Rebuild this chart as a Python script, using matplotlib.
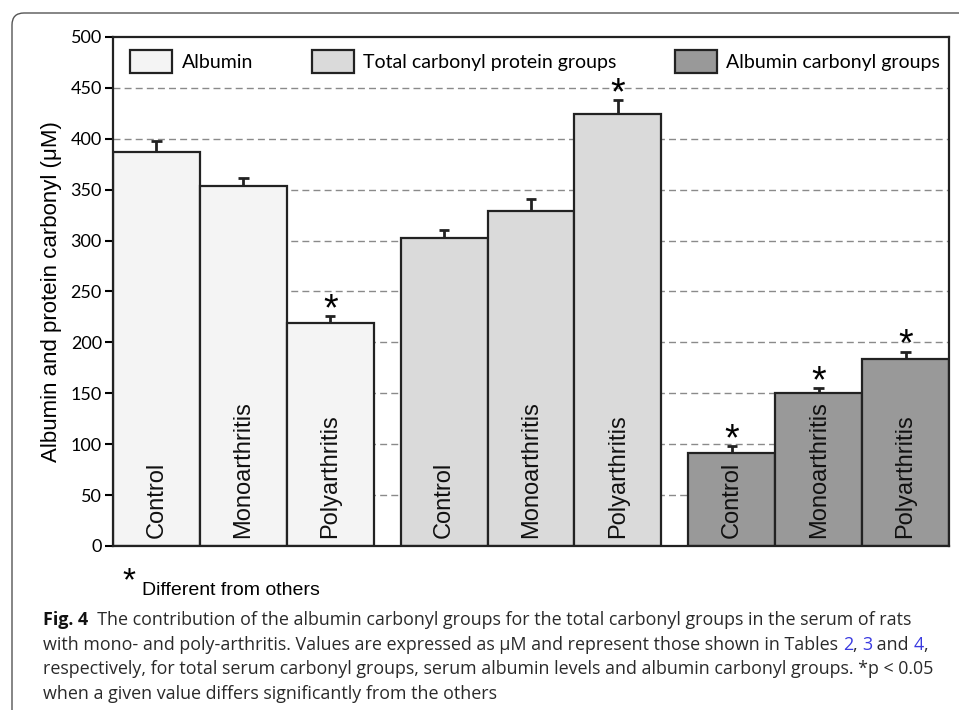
import numpy as np
import matplotlib
matplotlib.use("Agg")
import matplotlib.pyplot as plt
from matplotlib.path import Path
from matplotlib.patches import PathPatch

groups = ["Albumin", "Total carbonyl protein groups", "Albumin carbonyl groups"]
conditions = ["Control", "Monoarthritis", "Polyarthritis"]
albumin = [387, 354, 219]
albumin_err = [11, 7, 7]
total = [303, 329, 424]
total_err = [7, 12, 14]
alb_carbonyl = [91, 150, 184]
alb_carbonyl_err = [7, 5, 7]
stars = [[False, False, True], [False, False, True], [True, True, True]]
yticks = [0, 50, 100, 150, 200, 250, 300, 350, 400, 450, 500]

colors = ["#f4f4f4", "#dadada", "#999999"]
tick_font = ["Lato", "DejaVu Sans"]
arial = ["Liberation Sans", "DejaVu Sans"]
cap_font = ["Open Sans", "DejaVu Sans"]

fig = plt.figure(figsize=(9.59, 7.10), dpi=100)
ax = fig.add_axes([0.1178, 0.2310, 0.8718, 0.7169])

gap = 0.31
cap = 0.06
series = [albumin, total, alb_carbonyl]
errs = [albumin_err, total_err, alb_carbonyl_err]
for g, (vals, err) in enumerate(zip(series, errs)):
    x = np.arange(3) + g * (3 + gap)
    ax.bar(x, vals, width=1, align="edge", color=colors[g], edgecolor="#222222",
           linewidth=1.6, label=groups[g], zorder=2)
    top = np.array(vals) + np.array(err)
    ax.vlines(x + 0.5, vals, top, color="#222222", linewidth=2, zorder=3)
    ax.hlines(top, x + 0.5 - cap, x + 0.5 + cap, color="#222222", linewidth=2, zorder=3)
    for i in range(3):
        ax.text(x[i] + 0.5, 8, conditions[i], rotation=90, ha="center", va="bottom",
                fontsize=17, family=arial, color="#111111", zorder=4)
        if stars[g][i]:
            ax.text(x[i] + 0.5, top[i] - 4, "*", ha="center", va="baseline",
                    fontsize=27, family=arial, zorder=4)

ax.set_xlim(0, 9 + 2 * gap)
ax.set_ylim(0, 500)
ax.set_yticks(yticks)
ax.set_xticks([])
for v in yticks[1:-1]:
    ax.axhline(v, color="#8a8a8a", linestyle=(0, (5, 3)), linewidth=1, zorder=1)
ax.tick_params(axis="y", direction="out", length=6, width=1.5, labelsize=13, pad=2)
for lab in ax.get_yticklabels():
    lab.set_family(tick_font)
for s in ax.spines.values():
    s.set_linewidth(1.6)
    s.set_color("#222222")
ax.set_ylabel("Albumin and protein carbonyl (\u03bcM)", fontsize=16, family=arial, labelpad=6)

leg = ax.legend(loc="upper left", ncol=3, frameon=False, bbox_to_anchor=(0.0, 1.008),
                handlelength=2.15, handleheight=1.4, handletextpad=0.5,
                columnspacing=3.0, prop={"family": tick_font, "size": 14})

# "Different from others" note
fig.text(0.128, 0.180, "*", fontsize=24, family=arial, va="center")
fig.text(0.148, 0.168, "Different from others", fontsize=14, family=arial, va="center")

# caption
def chain(parts, x, y):
    prev = fig.text(x, y, parts[0][0], fontsize=12.9, family=cap_font,
                    fontweight=parts[0][1], color=parts[0][2], va="baseline")
    for txt, w, c in parts[1:]:
        prev = ax.annotate(txt, xy=(1, 0), xycoords=prev, va="bottom", ha="left",
                           fontsize=12.9, family=cap_font, fontweight=w, color=c,
                           annotation_clip=False)

k = "#2a2a2a"
b = "#3a3ae0"
chain([("Fig. 4", "bold", "#111111"),
       ("  The contribution of the albumin carbonyl groups for the total carbonyl groups in the serum of rats", "normal", k)],
      0.045, 0.120)
chain([("with mono- and poly-arthritis. Values are expressed as \u03bcM and represent those shown in Tables ", "normal", k),
       ("2", "normal", b), (", ", "normal", k), ("3", "normal", b), (" and ", "normal", k),
       ("4", "normal", b), (",", "normal", k)],
      0.045, 0.085)
chain([("respectively, for total serum carbonyl groups, serum albumin levels and albumin carbonyl groups. *p < 0.05", "normal", k)],
      0.045, 0.050)
chain([("when a given value differs significantly from the others", "normal", k)],
      0.045, 0.016)

# rounded frame (top and left edges)
W, H = 959, 710
r = 12
verts = [(959 / W, 1 - 13 / H), ((12 + r) / W, 1 - 13 / H), (12 / W, 1 - 13 / H),
         (12 / W, 1 - (13 + r) / H), (12 / W, 0)]
codes = [Path.MOVETO, Path.LINETO, Path.CURVE3, Path.CURVE3, Path.LINETO]
fig.add_artist(PathPatch(Path(verts, codes), transform=fig.transFigure,
                         fill=False, edgecolor="#555555", linewidth=1))

fig.savefig("out.png", dpi=100)
